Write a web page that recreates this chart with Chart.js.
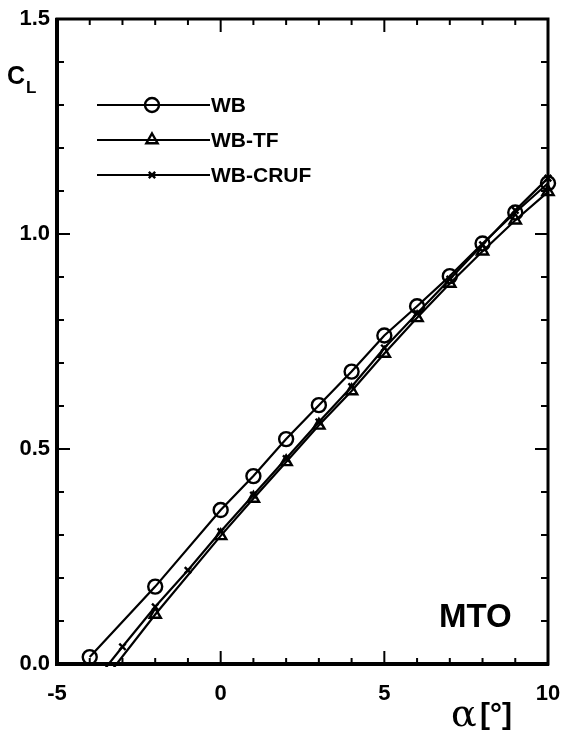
<!DOCTYPE html>
<html>
<head>
<meta charset="utf-8">
<script src="https://cdn.jsdelivr.net/npm/chart.js@4"></script>
<style>
html,body{margin:0;padding:0;background:#fff}
canvas{display:block}
</style>
</head>
<body>
<canvas id="clChart" width="564" height="734"></canvas>
<script>
// angle of attack [deg] and lift coefficient
const alphaWB=[-4,-2,0,1,2,3,4,5,6,7,8,9,10];
const clWB=[0.016,0.180,0.358,0.437,0.523,0.602,0.680,0.764,0.832,0.902,0.978,1.050,1.118];

const alphaTF=[-4,-2,0,1,2,3,4,5,6,7,8,9,10];
const clTF=[-0.080,0.115,0.298,0.385,0.470,0.555,0.635,0.722,0.805,0.885,0.960,1.032,1.098];

const alphaCRUF=[-4,-3,-2,-1,0,1,2,3,4,5,6,7,8,9,10];
const clCRUF=[-0.055,0.040,0.133,0.218,0.308,0.393,0.478,0.563,0.645,0.735,0.815,0.895,0.975,1.055,1.130];

const seriesNames=["WB","WB-TF","WB-CRUF"];
const xTicks=[-5,0,5,10];
const yTicks=[0,0.5,1.0,1.5];

const FONT="'Liberation Sans', Arial, sans-serif";

function pts(xs,ys){
return xs.map((v,i)=>({x:v,y:ys[i]}));
}

// inward ticks on all four sides + frame
const framePlugin={
id:"frame",
afterDatasetsDraw(chart){
const {ctx,chartArea:a,scales:{x,y}}=chart;
ctx.save();
ctx.strokeStyle="#000";
ctx.lineWidth=2;
function seg(x1,y1,x2,y2){
ctx.beginPath();ctx.moveTo(x1,y1);ctx.lineTo(x2,y2);ctx.stroke();
}
for(let v=-5;v<=10;v++){
const px=x.getPixelForValue(v);
const len=(v%5===0)?13:6;
seg(px,a.bottom,px,a.bottom-len);
seg(px,a.top,px,a.top+len);
}
for(let i=0;i<=15;i++){
const py=y.getPixelForValue(i/10);
const len=(i%5===0)?13:7;
seg(a.left,py,a.left+len,py);
seg(a.right,py,a.right-len,py);
}
ctx.lineWidth=3;
ctx.strokeRect(a.left,a.top,a.right-a.left,a.bottom-a.top);
ctx.lineWidth=4;
seg(a.left,a.top-1,a.left,a.bottom+2);
seg(a.left-2,a.bottom,a.right+1,a.bottom);
ctx.restore();
}
};

// legend lines, axis names and the MTO tag
const textPlugin={
id:"texts",
afterDraw(chart){
const ctx=chart.ctx;
ctx.save();
ctx.fillStyle="#000";
ctx.strokeStyle="#000";

const rows=[105,140,175];
chart.data.datasets.forEach((ds,i)=>{
const yy=rows[i];
ctx.lineWidth=2.2;
ctx.beginPath();ctx.moveTo(97,yy);ctx.lineTo(210,yy);ctx.stroke();
const opts={
pointStyle:ds.pointStyle,
radius:ds.pointRadius,
borderWidth:ds.pointBorderWidth,
rotation:0
};
ctx.fillStyle=ds.pointBackgroundColor;
ctx.strokeStyle="#000";
ctx.lineWidth=ds.pointBorderWidth;
Chart.helpers.drawPoint(ctx,opts,152,yy);
ctx.fillStyle="#000";
ctx.font="bold 21px "+FONT;
ctx.textBaseline="middle";
ctx.textAlign="left";
ctx.fillText(ds.label,211,yy+1);
});

ctx.textBaseline="alphabetic";
ctx.font="bold 25px "+FONT;
ctx.fillText("C",7,84);
ctx.font="bold 17px "+FONT;
ctx.fillText("L",26,93);

ctx.font="bold 33px "+FONT;
ctx.fillText("MTO",439,627);

ctx.font="38px 'DejaVu Serif', serif";
ctx.fillText("α",451,726);
ctx.font="bold 30px "+FONT;
ctx.fillText("[°]",480,724);
ctx.restore();
}
};

const chart=new Chart(document.getElementById("clChart"),{
type:"line",
data:{
datasets:[
{
label:seriesNames[0],
data:pts(alphaWB,clWB),
borderColor:"#000",
borderWidth:2.2,
pointStyle:"circle",
pointRadius:7,
pointBorderWidth:2.4,
pointBackgroundColor:"rgba(255,255,255,0)",
pointBorderColor:"#000"
},
{
label:seriesNames[1],
data:pts(alphaTF,clTF),
borderColor:"#000",
borderWidth:2.2,
pointStyle:"triangle",
pointRadius:6.5,
pointBorderWidth:2.4,
pointBackgroundColor:"rgba(255,255,255,0)",
pointBorderColor:"#000"
},
{
label:seriesNames[2],
data:pts(alphaCRUF,clCRUF),
borderColor:"#000",
borderWidth:2.2,
pointStyle:"crossRot",
pointRadius:4.5,
pointBorderWidth:2.4,
pointBackgroundColor:"#000",
pointBorderColor:"#000"
}
]
},
options:{
responsive:false,
animation:false,
devicePixelRatio:1,
clip:{left:0,top:0,right:10,bottom:3},
layout:{padding:{top:19,right:16,left:0,bottom:0}},
plugins:{legend:{display:false},tooltip:{enabled:false}},
scales:{
x:{
type:"linear",
min:-5,max:10,
afterBuildTicks(s){s.ticks=xTicks.map(v=>({value:v}));},
afterFit(s){s.height=70;},
grid:{display:false,drawTicks:true,tickLength:17},
border:{display:false},
ticks:{
color:"#000",
padding:0,
maxRotation:0,
autoSkip:false,
font:{family:FONT,size:22,weight:"bold"},
callback:v=>String(v)
}
},
y:{
type:"linear",
min:0,max:1.5,
afterBuildTicks(s){s.ticks=yTicks.map(v=>({value:v}));},
afterFit(s){s.width=57;},
grid:{display:false,drawTicks:true,tickLength:7},
border:{display:false},
ticks:{
color:"#000",
padding:0,
autoSkip:false,
font:{family:FONT,size:22,weight:"bold"},
callback:v=>Number(v).toFixed(1)
}
}
}
},
plugins:[framePlugin,textPlugin]
});
</script>
</body>
</html>
